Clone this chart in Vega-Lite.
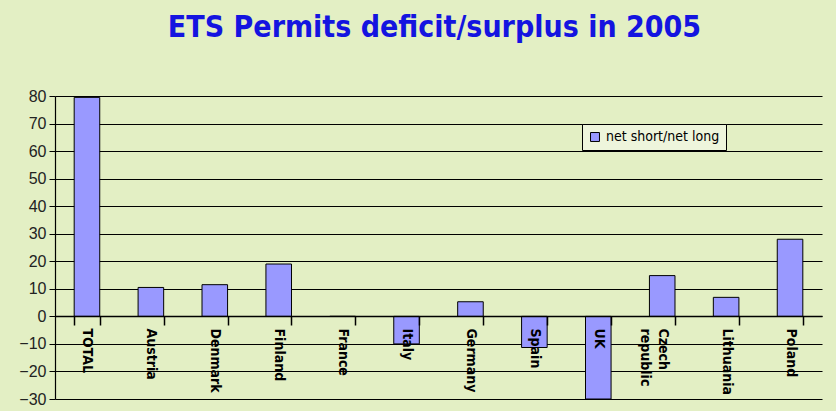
{
  "$schema": "https://vega.github.io/schema/vega-lite/v6.json",
  "width": 767,
  "height": 303,
  "autosize": {"type": "none"},
  "padding": {"left": 55, "top": 96, "right": 14, "bottom": 12},
  "background": "#e3efc4",
  "title": {
    "text": "ETS Permits deficit/surplus in 2005",
    "font": "DejaVu Sans Condensed",
    "fontSize": 30,
    "fontWeight": "bold",
    "color": "#1414e0",
    "anchor": "middle",
    "offset": 45,
    "dx": -4
  },
  "config": {
    "view": {"stroke": null, "fill": "#e3efc4"}
  },
  "data": {
    "values": [
      {"country": "TOTAL", "value": 79.5, "series": "net short/net long"},
      {"country": "Austria", "value": 10.5, "series": "net short/net long"},
      {"country": "Denmark", "value": 11.5, "series": "net short/net long"},
      {"country": "Finland", "value": 19, "series": "net short/net long"},
      {"country": "France", "value": 0, "series": "net short/net long"},
      {"country": "Italy", "value": -10, "series": "net short/net long"},
      {"country": "Germany", "value": 5.3, "series": "net short/net long"},
      {"country": "Spain", "value": -11.3, "series": "net short/net long"},
      {"country": "UK", "value": -30, "series": "net short/net long"},
      {"country": "Czech republic", "value": 14.8, "series": "net short/net long"},
      {"country": "Lithuania", "value": 6.9, "series": "net short/net long"},
      {"country": "Poland", "value": 28, "series": "net short/net long"}
    ]
  },
  "mark": {"type": "bar", "stroke": "#000000", "strokeWidth": 1},
  "encoding": {
    "x": {
      "field": "country",
      "type": "nominal",
      "sort": null,
      "scale": {"paddingInner": 0.6, "paddingOuter": 0.3},
      "axis": {
        "title": null,
        "zindex": 1,
        "offset": -83,
        "domainColor": "#000000",
        "domainWidth": 1.5,
        "tickColor": "#000000",
        "tickSize": 9,
        "tickWidth": 1.5,
        "tickBand": "extent",
        "labelAngle": 90,
        "labelAlign": "left",
        "labelBaseline": "middle",
        "labelFont": "DejaVu Sans Condensed",
        "labelFontWeight": "bold",
        "labelFontSize": 14,
        "labelColor": "#000000",
        "labelPadding": 3,
        "labelLineHeight": 18,
        "labelExpr": "datum.value == 'Czech republic' ? ['Czech', 'republic'] : datum.value"
      }
    },
    "y": {
      "field": "value",
      "type": "quantitative",
      "scale": {"domain": [-30, 80], "nice": false, "zero": false},
      "axis": {
        "title": null,
        "values": [-30, -20, -10, 0, 10, 20, 30, 40, 50, 60, 70, 80],
        "grid": true,
        "gridColor": "#000000",
        "gridOpacity": 1,
        "gridWidth": 1.2,
        "domainColor": "#000000",
        "domainWidth": 1.2,
        "tickColor": "#000000",
        "tickSize": 6,
        "labelFont": "Liberation Sans",
        "labelFontSize": 16,
        "labelColor": "#222222",
        "labelPadding": 3
      }
    },
    "color": {
      "field": "series",
      "type": "nominal",
      "scale": {"range": ["#9999ff"]},
      "legend": {
        "title": null,
        "orient": "none",
        "legendX": 527,
        "legendY": 28,
        "fillColor": "#eef5dc",
        "strokeColor": "#000000",
        "padding": 6,
        "symbolType": "square",
        "symbolSize": 80,
        "symbolStrokeColor": "#000000",
        "symbolStrokeWidth": 1,
        "labelFont": "DejaVu Sans Condensed",
        "labelFontSize": 14,
        "labelColor": "#000000",
        "labelLimit": 200
      }
    }
  }
}
